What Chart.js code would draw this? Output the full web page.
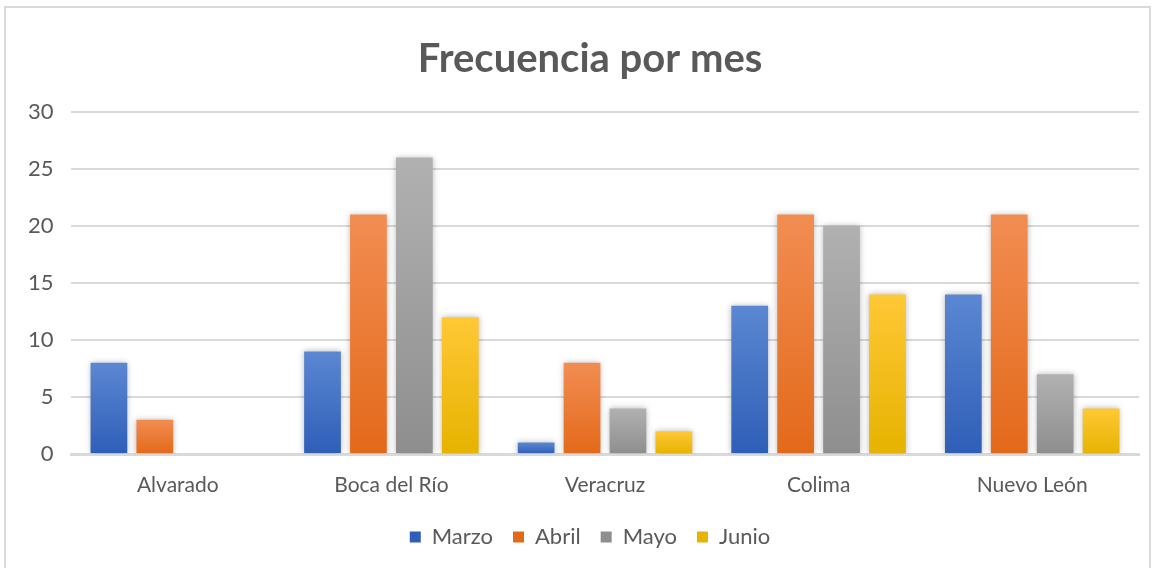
<!DOCTYPE html>
<html>
<head>
<meta charset="utf-8">
<script src="https://cdn.jsdelivr.net/npm/chart.js@4"></script>
<style>
  html, body { margin: 0; padding: 0; background: #fff; }
  #wrap { position: relative; width: 1157px; height: 568px; }
  #frame { position: absolute; left: 4px; top: 6px; width: 1147px; height: 570px;
           border: 2px solid #d9d9d9; box-sizing: border-box; }
  canvas { position: absolute; left: 0; top: 0; }
</style>
</head>
<body>
<div id="wrap">
  <div id="frame"></div>
  <canvas id="chart" width="1157" height="568"></canvas>
</div>
<script>
  // data
  const categories = ['Alvarado', 'Boca del Río', 'Veracruz', 'Colima', 'Nuevo León'];
  const marzo = [8, 9, 1, 13, 14];
  const abril = [3, 21, 8, 21, 21];
  const mayo  = [0, 26, 4, 20, 7];
  const junio = [0, 12, 2, 14, 4];
  const yTicks = [0, 5, 10, 15, 20, 25, 30];

  // top / bottom colours of each bar gradient
  const shades = {
    Marzo: ['#5b87d2', '#2e5eb7'],
    Abril: ['#f28d52', '#e3691a'],
    Mayo:  ['#b1b1b1', '#8e8e8e'],
    Junio: ['#ffc836', '#e6b300']
  };

  function barFill(name) {
    return (context) => {
      const chart = context.chart;
      const y = chart.scales.y;
      const legendSwatch = context.type !== 'data';
      if (!y || legendSwatch || context.raw === undefined) return shades[name][1];
      const top = y.getPixelForValue(context.raw);
      const base = y.getPixelForValue(0);
      if (base - top < 1) return shades[name][1];
      const g = chart.ctx.createLinearGradient(0, top, 0, base);
      g.addColorStop(0, shades[name][0]);
      g.addColorStop(1, shades[name][1]);
      return g;
    };
  }

  // soft shadow under the bars, like the spreadsheet style
  const barShadow = {
    id: 'barShadow',
    beforeDatasetsDraw(chart) {
      const ctx = chart.ctx;
      ctx.save();
      ctx.shadowColor = 'rgba(0,0,0,0.28)';
      ctx.shadowBlur = 6;
      ctx.shadowOffsetX = 0;
      ctx.shadowOffsetY = 0;
    },
    afterDatasetsDraw(chart) {
      chart.ctx.restore();
    }
  };

  const series = [
    ['Marzo', marzo],
    ['Abril', abril],
    ['Mayo', mayo],
    ['Junio', junio]
  ];

  const ctx = document.getElementById('chart').getContext('2d');
  new Chart(ctx, {
    type: 'bar',
    data: {
      labels: categories,
      datasets: series.map(([name, values]) => ({
        label: name,
        data: values,
        backgroundColor: barFill(name),
        borderWidth: 0,
        categoryPercentage: 0.86,
        barPercentage: 0.8
      }))
    },
    plugins: [barShadow],
    options: {
      responsive: false,
      animation: false,
      layout: { padding: { left: 41, right: 18, top: 0, bottom: 10 } },
      plugins: {
        title: {
          display: true,
          text: 'Frecuencia por mes',
          color: '#595959',
          font: { family: 'Lato', size: 40, weight: 'bold' },
          padding: { top: 35, bottom: 29 }
        },
        legend: {
          position: 'bottom',
          labels: {
            color: '#595959',
            font: { family: 'Lato', size: 22 },
            boxWidth: 11,
            boxHeight: 11,
            padding: 20,
            generateLabels(chart) {
              return chart.data.datasets.map((ds, i) => ({
                text: ds.label,
                fillStyle: shades[ds.label][1],
                strokeStyle: shades[ds.label][1],
                lineWidth: 0,
                hidden: false,
                datasetIndex: i,
                fontColor: '#595959'
              }));
            }
          }
        },
        tooltip: { enabled: false }
      },
      scales: {
        x: {
          grid: { display: false },
          border: { color: '#d9d9d9', width: 3 },
          ticks: {
            color: '#595959',
            font: { family: 'Lato', size: 21 },
            padding: 11
          },
          afterFit(axis) {
            axis.height = 52;
          }
        },
        y: {
          min: 0,
          max: 30,
          afterBuildTicks(axis) {
            axis.ticks = yTicks.map(v => ({ value: v }));
          },
          afterFit(axis) {
            axis.width = 30;
          },
          grid: { color: '#d9d9d9', lineWidth: 2, drawTicks: false },
          border: { display: false },
          ticks: {
            color: '#595959',
            font: { family: 'Lato', size: 22 },
            mirror: true,
            crossAlign: 'far',
            padding: -43
          }
        }
      }
    }
  });
</script>
</body>
</html>
